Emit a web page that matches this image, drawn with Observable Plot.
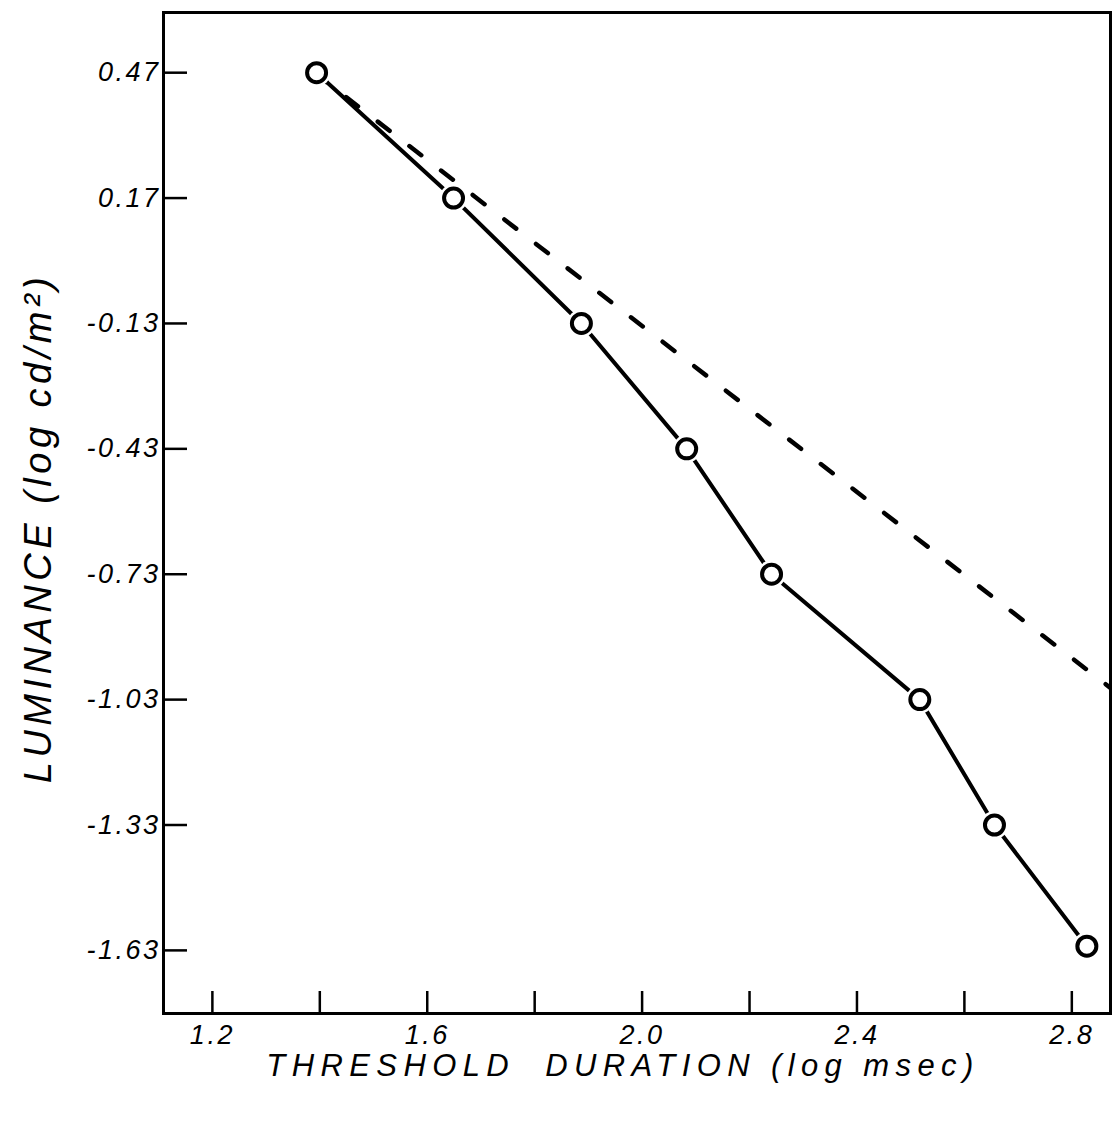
<!DOCTYPE html>
<html><head><meta charset="utf-8">
<script src="https://cdn.jsdelivr.net/npm/d3@7"></script>
<script src="https://cdn.jsdelivr.net/npm/@observablehq/plot@0.6"></script>
<style>
body{margin:0;background:#fff;}
</style></head><body><div id="chart"></div>
<script>
// Data
const durations = [1.394, 1.649, 1.887, 2.083, 2.241, 2.517, 2.656, 2.828];   // log msec
const luminances = [0.47, 0.17, -0.13, -0.43, -0.73, -1.03, -1.33, -1.62];     // log cd/m2
const blochX = [1.39, 2.88];     // dashed reference line (slope -1)
const blochY = [0.47, -1.01];
const xTickValues = [1.2, 1.4, 1.6, 1.8, 2.0, 2.2, 2.4, 2.6, 2.8];
const xTickLabels = [1.2, 1.6, 2.0, 2.4, 2.8];
const yTickValues = [0.47, 0.17, -0.13, -0.43, -0.73, -1.03, -1.33, -1.63];
const xTitle = "THRESHOLD  DURATION (log msec)";
const yTitle = "LUMINANCE (log cd/m²)";

const W = 1112, H = 1128, mL = 163, mR = 2, mT = 12, mB = 115;
const fw = W - mL - mR, fh = H - mT - mB;
const font = "'Liberation Sans', Arial, sans-serif";
const points = durations.map((d, i) => ({x: d, y: luminances[i]}));
const bloch = blochX.map((d, i) => ({x: d, y: blochY[i]}));

const chart = Plot.plot({
  width: W, height: H,
  marginLeft: mL, marginRight: mR, marginTop: mT, marginBottom: mB,
  style: {fontFamily: font, background: "white", color: "black"},
  x: {domain: [1.109, 2.872]},
  y: {domain: [-1.781, 0.614]},
  marks: [
    Plot.tickX(xTickValues, {x: d => d, insetTop: fh - 22, stroke: "black", strokeWidth: 2.5}),
    Plot.tickY(yTickValues, {y: d => d, insetRight: fw - 24, stroke: "black", strokeWidth: 2.5}),
    Plot.axisX({ticks: xTickLabels, tickSize: 0, tickPadding: 11, tickFormat: d => d.toFixed(1), fontSize: 27, fontStyle: "italic", label: null}),
    Plot.axisY({ticks: yTickValues, tickSize: 0, tickPadding: 3, tickFormat: d => d.toFixed(2), fontSize: 27, fontStyle: "italic", label: null}),
    Plot.line(bloch, {x: "x", y: "y", stroke: "black", strokeWidth: 4.5, strokeDasharray: "15,25", strokeLinecap: "round", clip: true}),
    Plot.line(points, {x: "x", y: "y", stroke: "black", strokeWidth: 4, strokeLinecap: "round"}),
    Plot.dot(points, {x: "x", y: "y", r: 14, fill: "white", stroke: null}),
    Plot.dot(points, {x: "x", y: "y", r: 9.5, fill: "white", stroke: "black", strokeWidth: 4}),
    Plot.frame({stroke: "black", strokeWidth: 3}),
    Plot.text([xTitle], {text: d => d, frameAnchor: "bottom", textAnchor: "middle", lineAnchor: "middle", dx: -14, dy: 53, fontSize: 31, fontStyle: "italic"}),
    Plot.text([yTitle], {text: d => d, frameAnchor: "left", textAnchor: "middle", lineAnchor: "middle", dx: -125, dy: 15, rotate: -90, fontSize: 38, fontStyle: "italic"})
  ]
});
document.getElementById("chart").appendChild(chart);
const s = d3.select(chart);
s.selectAll('g[aria-label="text"] text').each(function() {
  const t = this.textContent;
  const isX = t.startsWith("THRESHOLD");
  d3.select(this)
    .style("letter-spacing", isX ? "6.4px" : "4.5px")
    .style("font-size", isX ? "31px" : "38px")
    .style("font-style", "italic");
});
s.selectAll('g[aria-label="x-axis tick label"] text, g[aria-label="y-axis tick label"] text')
  .style("letter-spacing", "2.5px")
  .style("font-size", "27px")
  .style("font-style", "italic");
</script></body></html>
